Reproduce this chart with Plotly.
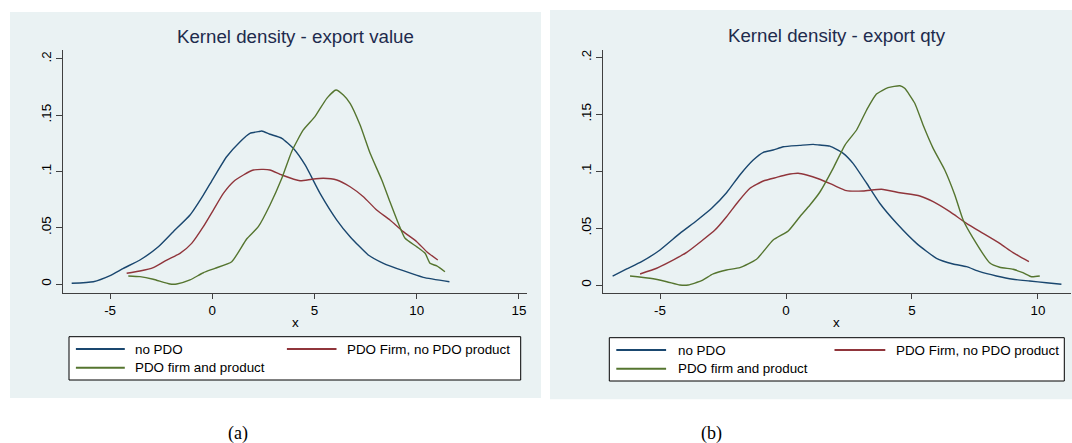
import plotly.graph_objects as go

# ---------------- data ----------------
# Panel (a): Kernel density - export value
a_nopdo_x = [-6.88, -5.82, -5.00, -4.35, -3.54, -2.64, -1.91, -1.09, -0.44, 0.05, 0.70, 1.36, 1.84, 2.25, 2.42,
             2.82, 3.40, 3.96, 4.54, 5.27, 6.09, 6.74, 7.63, 8.37, 9.34, 10.32, 11.60]
a_nopdo_y = [0.0006, 0.0020, 0.0074, 0.0139, 0.0213, 0.0331, 0.0465, 0.0613, 0.0790, 0.0939, 0.1130, 0.1264,
             0.1338, 0.1353, 0.1359, 0.1330, 0.1294, 0.1205, 0.1057, 0.0805, 0.0568, 0.0420, 0.0258, 0.0184,
             0.0118, 0.0059, 0.0020]
a_firm_x = [-4.19, -3.54, -2.89, -2.23, -1.58, -1.01, -0.44, 0.05, 0.54, 1.03, 1.52, 2.01, 2.50, 2.82, 3.40,
            4.29, 4.86, 5.43, 6.09, 6.74, 7.39, 8.04, 8.69, 9.34, 10.00, 10.49, 11.03]
a_firm_y = [0.0095, 0.0115, 0.0145, 0.0213, 0.0272, 0.0361, 0.0509, 0.0657, 0.0805, 0.0909, 0.0968, 0.1012,
            0.1018, 0.1012, 0.0968, 0.0917, 0.0930, 0.0939, 0.0924, 0.0864, 0.0775, 0.0657, 0.0568, 0.0465,
            0.0376, 0.0287, 0.0213]
a_prod_x = [-4.11, -3.54, -2.89, -2.07, -1.74, -1.09, -0.44, 0.13, 0.95, 1.68, 2.25, 2.82, 3.40, 3.88, 4.45,
            5.02, 5.60, 6.05, 6.41, 6.74, 7.23, 7.72, 8.29, 8.69, 9.10, 9.43, 10.00, 10.41, 10.65, 10.98, 11.38]
a_prod_y = [0.0071, 0.0065, 0.0042, 0.0000, 0.0000, 0.0036, 0.0100, 0.0139, 0.0198, 0.0400, 0.0509, 0.0702,
            0.0939, 0.1175, 0.1368, 0.1486, 0.1649, 0.1723, 0.1679, 0.1605, 0.1412, 0.1161, 0.0924, 0.0731,
            0.0539, 0.0406, 0.0331, 0.0273, 0.0184, 0.0160, 0.0109]

# Panel (b): Kernel density - export qty
b_nopdo_x = [-6.88, -6.32, -5.73, -5.00, -4.21, -3.55, -2.95, -2.36, -1.83, -1.30, -0.90, -0.51, -0.11, 0.55,
             1.08, 1.34, 1.74, 2.27, 2.66, 3.20, 3.72, 4.39, 5.18, 5.97, 6.63, 7.16, 7.69, 8.35, 9.01, 9.67,
             10.33, 10.93]
b_nopdo_y = [0.0079, 0.0141, 0.0205, 0.0308, 0.0454, 0.0565, 0.0674, 0.0811, 0.0967, 0.1098, 0.1166, 0.1186,
             0.1215, 0.1227, 0.1236, 0.1230, 0.1221, 0.1157, 0.1069, 0.0894, 0.0718, 0.0542, 0.0366, 0.0235,
             0.0185, 0.0161, 0.0117, 0.0079, 0.0050, 0.0035, 0.0020, 0.0006]
b_firm_x = [-5.79, -5.13, -4.60, -3.94, -3.35, -2.82, -2.36, -1.90, -1.43, -0.90, -0.37, 0.02, 0.48, 0.82,
            1.34, 1.87, 2.40, 3.06, 3.79, 4.52, 5.31, 5.84, 6.50, 7.16, 7.82, 8.48, 9.01, 9.64]
b_firm_y = [0.0097, 0.0147, 0.0205, 0.0287, 0.0387, 0.0483, 0.0600, 0.0732, 0.0850, 0.0914, 0.0946, 0.0969,
            0.0982, 0.0967, 0.0929, 0.0879, 0.0829, 0.0826, 0.0841, 0.0811, 0.0782, 0.0732, 0.0644, 0.0542,
            0.0454, 0.0366, 0.0284, 0.0205]
b_prod_x = [-6.19, -5.40, -4.73, -4.21, -3.88, -3.35, -2.89, -2.36, -1.83, -1.17, -0.51, 0.09, 0.55, 0.95,
            1.34, 1.87, 2.34, 2.80, 3.20, 3.59, 4.05, 4.52, 4.71, 5.11, 5.44, 5.84, 6.30, 6.70, 7.03, 7.43,
            8.08, 8.48, 9.01, 9.40, 9.74, 10.07]
b_prod_y = [0.0079, 0.0059, 0.0029, 0.0000, 0.0000, 0.0038, 0.0097, 0.0132, 0.0152, 0.0226, 0.0395, 0.0475,
            0.0600, 0.0703, 0.0815, 0.1025, 0.1230, 0.1362, 0.1538, 0.1678, 0.1734, 0.1751, 0.1728, 0.1597,
            0.1406, 0.1201, 0.1011, 0.0791, 0.0571, 0.0410, 0.0196, 0.0156, 0.0138, 0.0108, 0.0073, 0.0079]

series_names = ["no PDO", "PDO Firm, no PDO product", "PDO firm and product"]
series_colors = ["#1a476f", "#90353b", "#55752f"]
titles = ["Kernel density - export value", "Kernel density - export qty"]
captions = ["(a)", "(b)"]
y_tickvals = [0, 0.05, 0.1, 0.15, 0.2]
y_ticktext = ["0", ".05", ".1", ".15", ".2"]
x_tickvals_a = [-5, 0, 5, 10, 15]
x_tickvals_b = [-5, 0, 5, 10]

# ---------------- layout helpers ----------------
W, H = 1072, 443
def px(x):
    return x / W
def py(y):
    return 1 - y / H

BG = "#eaf2f3"
AXC = "#404040"
FONT = "Arial, Liberation Sans, sans-serif"
SERIF = "Times New Roman, Liberation Serif, serif"

fig = go.Figure()

panels = [
    dict(xs=[a_nopdo_x, a_firm_x, a_prod_x], ys=[a_nopdo_y, a_firm_y, a_prod_y], xa="x", ya="y"),
    dict(xs=[b_nopdo_x, b_firm_x, b_prod_x], ys=[b_nopdo_y, b_firm_y, b_prod_y], xa="x2", ya="y2"),
]
for p in panels:
    for i in range(3):
        fig.add_trace(go.Scatter(x=p["xs"][i], y=p["ys"][i], mode="lines", name=series_names[i],
                                 line=dict(color=series_colors[i], width=1.4, shape="spline", smoothing=0.5),
                                 xaxis=p["xa"], yaxis=p["ya"], showlegend=False, hoverinfo="x+y+name"))

# geometry (pixels)
plot_top, plot_bot = 50, 293.3
geo = [
    dict(bg=(10, 12, 541, 398), pl=63.3, pr=526.7, xr=[-7.29, 15.38], yr=[-0.00826, 0.20782],
         legend=(69, 336.7, 520.7, 380), l1=(75.9, 124.8), t1=133.4, l2=(286.9, 336.5), t2=345.1,
         rows=(349, 367.7), title_y=37, cap_x=237.7),
    dict(bg=(550, 10, 1072, 399.3), pl=603.3, pr=1070.5, xr=[-7.25, 11.29], yr=[-0.00729, 0.2065],
         legend=(609.3, 337.7, 1064.3, 381), l1=(616.3, 666.1), t1=676.1, l2=(834.5, 885.3), t2=894.4,
         rows=(350, 368.7), title_y=35.5, cap_x=711),
]

shapes = []
annotations = []
for k, g in enumerate(geo):
    x0, y0, x1, y1 = g["bg"]
    shapes.append(dict(type="rect", xref="paper", yref="paper", x0=px(x0), x1=px(x1), y0=py(y1), y1=py(y0),
                       fillcolor=BG, line=dict(width=0), layer="below"))
    lx0, ly0, lx1, ly1 = g["legend"]
    shapes.append(dict(type="rect", xref="paper", yref="paper", x0=px(lx0), x1=px(lx1), y0=py(ly1), y1=py(ly0),
                       fillcolor="white", line=dict(color="black", width=1), layer="above"))
    items = [(g["l1"], g["t1"], g["rows"][0], 0), (g["l2"], g["t2"], g["rows"][0], 1), (g["l1"], g["t1"], g["rows"][1], 2)]
    for (la, lb), tx, ry, si in items:
        shapes.append(dict(type="line", xref="paper", yref="paper", x0=px(la), x1=px(lb), y0=py(ry), y1=py(ry),
                           line=dict(color=series_colors[si], width=2), layer="above"))
        annotations.append(dict(text=series_names[si], xref="paper", yref="paper", x=px(tx), y=py(ry),
                                xanchor="left", yanchor="middle", showarrow=False,
                                font=dict(family=FONT, size=13.4, color="black")))
    cx = (g["pl"] + g["pr"]) / 2
    annotations.append(dict(text=titles[k], xref="paper", yref="paper", x=px(cx), y=py(g["title_y"]),
                            xanchor="center", yanchor="middle", showarrow=False,
                            font=dict(family=FONT, size=18.7, color="#1e2b4d")))
    annotations.append(dict(text="x", xref="paper", yref="paper", x=px(cx), y=py(322),
                            xanchor="center", yanchor="middle", showarrow=False,
                            font=dict(family=FONT, size=13.4, color="black")))
    annotations.append(dict(text=captions[k], xref="paper", yref="paper", x=px(g["cap_x"]), y=py(433),
                            xanchor="center", yanchor="middle", showarrow=False,
                            font=dict(family=SERIF, size=18, color="black")))

def xaxis(g, vals, anchor):
    return dict(domain=[px(g["pl"]), px(g["pr"])], range=g["xr"], anchor=anchor, tickvals=vals,
                ticktext=[str(v) for v in vals], ticks="outside", ticklen=5, tickcolor=AXC, tickwidth=1,
                showline=True, linecolor=AXC, linewidth=1.2, showgrid=False, zeroline=False,
                tickfont=dict(family=FONT, size=13.4, color="black"), fixedrange=True)

def yaxis(g, anchor):
    return dict(domain=[py(plot_bot), py(plot_top)], range=g["yr"], anchor=anchor, tickvals=y_tickvals,
                ticktext=y_ticktext, ticks="outside", ticklen=6, tickcolor=AXC, tickwidth=1, tickangle=-90,
                showline=True, linecolor=AXC, linewidth=1.2, showgrid=True, gridcolor=BG, gridwidth=1.5,
                zeroline=False, tickfont=dict(family=FONT, size=13.4, color="black"), fixedrange=True)

fig.update_layout(
    width=W, height=H, margin=dict(l=0, r=0, t=0, b=0),
    paper_bgcolor="white", plot_bgcolor="white", showlegend=False,
    xaxis=xaxis(geo[0], x_tickvals_a, "y"), yaxis=yaxis(geo[0], "x"),
    xaxis2=xaxis(geo[1], x_tickvals_b, "y2"), yaxis2=yaxis(geo[1], "x2"),
    shapes=shapes, annotations=annotations,
)

fig.write_html("out.html", config={"displayModeBar": False})
